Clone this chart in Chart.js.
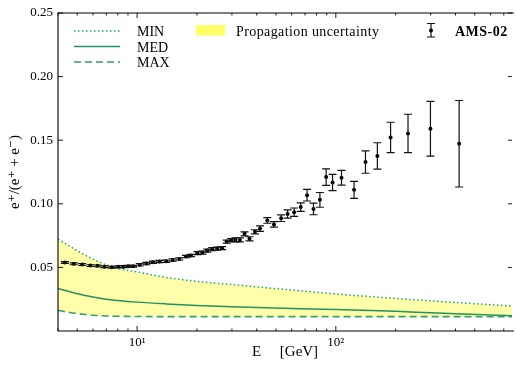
<!DOCTYPE html>
<html lang="en">
<head>
<meta charset="UTF-8">
<title>Positron fraction vs AMS-02</title>
<style>
  body { margin: 0; background: #fff; }
  canvas { display: block; }
</style>
</head>
<body>
<canvas id="fracChart" width="516" height="368"></canvas>
<script src="https://cdn.jsdelivr.net/npm/chart.js"></script>
<script>
// AMS-02 positron fraction
var amsEnergy = [4.33, 4.80, 5.29, 5.82, 6.32, 6.85, 7.46, 8.04, 8.52, 9.02,
  9.55, 10.31, 11.14, 12.01, 12.97, 14.01, 15.11, 16.31, 17.61, 18.65,
  20.11, 21.30, 22.55, 23.88, 25.29, 26.78, 28.26, 29.76, 31.22, 32.91,
  34.73, 36.79, 39.17, 41.58, 45.21, 48.83, 53.07, 57.18, 61.71, 66.59,
  71.65, 77.20, 83.16, 89.39, 96.30, 106.8, 123.5, 141.0, 161.8, 188.6,
  230.8, 299.3, 417.3];
var amsFrac = [0.0538, 0.0528, 0.0522, 0.0514, 0.0512, 0.0506, 0.0502, 0.0506, 0.0506, 0.0509,
  0.0509, 0.0520, 0.0530, 0.0541, 0.0546, 0.0549, 0.0559, 0.0567, 0.0585, 0.0593,
  0.0612, 0.0617, 0.0632, 0.0643, 0.0648, 0.0651, 0.0703, 0.0714, 0.0717, 0.0716,
  0.0764, 0.0725, 0.0780, 0.0805, 0.0869, 0.0838, 0.0887, 0.0920, 0.0934, 0.0974,
  0.1068, 0.0960, 0.1031, 0.1210, 0.1168, 0.1205, 0.1110, 0.1328, 0.1376, 0.1522,
  0.1553, 0.1590, 0.1472];
var amsErr = [0.0007, 0.0007, 0.0007, 0.0007, 0.0007, 0.0007, 0.0007, 0.0007, 0.0007, 0.0007,
  0.0007, 0.0009, 0.0009, 0.0009, 0.0009, 0.0009, 0.0009, 0.0009, 0.0009, 0.0009,
  0.0012, 0.0012, 0.0012, 0.0012, 0.0012, 0.0012, 0.0012, 0.0012, 0.0016, 0.0016,
  0.0016, 0.0016, 0.0016, 0.0021, 0.0022, 0.0022, 0.0026, 0.0033, 0.0033, 0.0033,
  0.0046, 0.0046, 0.0058, 0.0065, 0.0064, 0.0058, 0.0067, 0.0088, 0.0104, 0.0119,
  0.0151, 0.0215, 0.0340];

// propagation models
var modelEnergy = [4, 4.5, 5, 5.5, 6, 7, 8, 10, 14, 20, 30, 40, 60, 100, 150, 200, 300, 400, 600, 800];
var minFrac = [0.0722, 0.0674, 0.0631, 0.0595, 0.0565, 0.0520, 0.0492, 0.0464, 0.0421, 0.0390,
  0.0365, 0.0347, 0.0322, 0.0291, 0.0270, 0.0256, 0.0237, 0.0224, 0.0207, 0.0195];
var medFrac = [0.0334, 0.0312, 0.0293, 0.0279, 0.0267, 0.0250, 0.0240, 0.0227, 0.0213, 0.0201,
  0.0190, 0.0184, 0.0177, 0.0170, 0.0162, 0.0155, 0.0143, 0.0135, 0.0125, 0.0119];
var maxFrac = [0.0162, 0.0148, 0.0137, 0.0130, 0.0124, 0.0118, 0.0116, 0.0114, 0.0113, 0.0113,
  0.0113, 0.0113, 0.0113, 0.0113, 0.0113, 0.0113, 0.0113, 0.0113, 0.0112, 0.0112];

var yTicks = [0.05, 0.10, 0.15, 0.20, 0.25];
var xTickLabels = { 10: '10\u00b9', 100: '10\u00b2' };

var serif = '"Liberation Serif", "DejaVu Serif", serif';
var bandFill = 'rgba(255, 255, 50, 0.42)';
var bandLegend = '#ffff66';
var minColor = '#22a07c';
var medColor = '#24925e';
var maxColor = '#34a06a';

function toPoints(xs, ys) {
  return xs.map(function (x, i) { return { x: x, y: ys[i] }; });
}

// error bars, frame and inward ticks on all four sides
var decorPlugin = {
  id: 'decor',
  afterDatasetsDraw: function (chart) {
    var ctx = chart.ctx, xs = chart.scales.x, ys = chart.scales.y, a = chart.chartArea;
    ctx.save();
    ctx.beginPath();
    ctx.rect(a.left, a.top, a.right - a.left, a.bottom - a.top);
    ctx.clip();
    ctx.strokeStyle = '#111';
    ctx.lineWidth = 1.2;
    amsEnergy.forEach(function (e, i) {
      var px = xs.getPixelForValue(e);
      var top = ys.getPixelForValue(amsFrac[i] + amsErr[i]);
      var bot = ys.getPixelForValue(amsFrac[i] - amsErr[i]);
      ctx.beginPath();
      ctx.moveTo(px, top); ctx.lineTo(px, bot);
      ctx.moveTo(px - 4, top); ctx.lineTo(px + 4, top);
      ctx.moveTo(px - 4, bot); ctx.lineTo(px + 4, bot);
      ctx.stroke();
    });
    ctx.restore();

    ctx.save();
    ctx.strokeStyle = '#000';
    ctx.lineWidth = 1.1;
    ctx.beginPath();
    ctx.moveTo(a.right + 2, a.top); ctx.lineTo(a.left, a.top);
    ctx.lineTo(a.left, a.bottom); ctx.lineTo(a.right + 2, a.bottom);
    ctx.stroke();

    ctx.lineWidth = 0.9;
    ctx.beginPath();
    for (var d = 0; d <= 3; d++) {
      for (var m = 1; m <= 9; m++) {
        var v = m * Math.pow(10, d);
        if (v < xs.min || v > xs.max) continue;
        var px = xs.getPixelForValue(v);
        var len = m === 1 ? 5 : 2.5;
        ctx.moveTo(px, a.bottom); ctx.lineTo(px, a.bottom - len);
        ctx.moveTo(px, a.top); ctx.lineTo(px, a.top + len);
      }
    }
    yTicks.forEach(function (t) {
      var py = ys.getPixelForValue(t);
      ctx.moveTo(a.left, py); ctx.lineTo(a.left + 5, py);
      ctx.moveTo(a.right, py); ctx.lineTo(a.right - 4, py);
    });
    ctx.stroke();
    ctx.restore();
  }
};

// matplotlib-like legend block
var legendPlugin = {
  id: 'legendBlock',
  afterDraw: function (chart) {
    var ctx = chart.ctx;
    ctx.save();
    ctx.lineWidth = 1.5;
    ctx.strokeStyle = minColor;
    ctx.setLineDash([1.5, 2.5]);
    ctx.beginPath(); ctx.moveTo(74, 31); ctx.lineTo(120, 31); ctx.stroke();
    ctx.strokeStyle = medColor;
    ctx.setLineDash([]);
    ctx.beginPath(); ctx.moveTo(74, 46.5); ctx.lineTo(120, 46.5); ctx.stroke();
    ctx.strokeStyle = maxColor;
    ctx.setLineDash([7, 4]);
    ctx.beginPath(); ctx.moveTo(74, 62); ctx.lineTo(120, 62); ctx.stroke();
    ctx.setLineDash([]);

    ctx.fillStyle = '#000';
    ctx.font = '14px ' + serif;
    ctx.textBaseline = 'alphabetic';
    ctx.fillText('MIN', 137, 35.7);
    ctx.fillText('MED', 137, 51.5);
    ctx.fillText('MAX', 137, 67.2);

    ctx.fillStyle = bandLegend;
    ctx.fillRect(196, 25, 29, 10.5);
    ctx.fillStyle = '#000';
    ctx.letterSpacing = '0.4px';
    ctx.fillText('Propagation uncertainty', 236, 35.5);

    ctx.strokeStyle = '#111';
    ctx.lineWidth = 1.2;
    ctx.beginPath();
    ctx.moveTo(431, 23.5); ctx.lineTo(431, 37);
    ctx.moveTo(427, 23.5); ctx.lineTo(435, 23.5);
    ctx.moveTo(427, 37); ctx.lineTo(435, 37);
    ctx.stroke();
    ctx.beginPath(); ctx.arc(431, 30.5, 2, 0, Math.PI * 2); ctx.fill();
    ctx.font = 'bold 14px ' + serif;
    ctx.letterSpacing = '0.5px';
    ctx.fillText('AMS-02', 455, 36);
    ctx.restore();
  }
};

var ctx = document.getElementById('fracChart').getContext('2d');
new Chart(ctx, {
  type: 'scatter',
  data: {
    datasets: [{
      label: 'AMS-02',
      data: toPoints(amsEnergy, amsFrac),
      pointRadius: 2,
      pointBackgroundColor: '#000',
      pointBorderWidth: 0,
      showLine: false
    }, {
      label: 'MIN',
      data: toPoints(modelEnergy, minFrac),
      showLine: true,
      borderColor: minColor,
      borderWidth: 1.5,
      borderDash: [1.5, 2.5],
      pointRadius: 0,
      cubicInterpolationMode: 'monotone',
      fill: 3,
      backgroundColor: bandFill
    }, {
      label: 'MED',
      data: toPoints(modelEnergy, medFrac),
      showLine: true,
      borderColor: medColor,
      borderWidth: 1.5,
      pointRadius: 0,
      cubicInterpolationMode: 'monotone'
    }, {
      label: 'MAX',
      data: toPoints(modelEnergy, maxFrac),
      showLine: true,
      borderColor: maxColor,
      borderWidth: 1.6,
      borderDash: [7, 4],
      pointRadius: 0,
      cubicInterpolationMode: 'monotone'
    }]
  },
  options: {
    responsive: false,
    animation: false,
    layout: { padding: { top: 13, right: 0, left: 0, bottom: 0 } },
    plugins: {
      legend: { display: false },
      tooltip: { enabled: false },
      filler: { drawTime: 'beforeDatasetsDraw' }
    },
    scales: {
      x: {
        type: 'logarithmic',
        min: 4,
        max: 770,
        grid: { display: false, drawTicks: false },
        border: { display: false },
        ticks: {
          autoSkip: false,
          maxRotation: 0,
          padding: 4,
          color: '#000',
          font: { family: serif, size: 13 },
          callback: function (v) {
            if (Math.abs(v - 10) < 1e-6) return xTickLabels[10];
            if (Math.abs(v - 100) < 1e-6) return xTickLabels[100];
            return '';
          }
        },
        title: {
          display: true,
          text: 'E     [GeV]',
          color: '#000',
          font: { family: serif, size: 15 },
          padding: { top: 0, bottom: 7 }
        },
        afterFit: function (s) { s.height = 37; }
      },
      y: {
        min: 0,
        max: 0.25,
        grid: { display: false, drawTicks: false },
        border: { display: false },
        ticks: {
          stepSize: 0.05,
          padding: 5,
          color: '#000',
          font: { family: serif, size: 13 },
          callback: function (v) { return v < 0.001 ? '' : v.toFixed(2); }
        },
        title: {
          display: true,
          text: 'e\u207a/(e\u207a + e\u207b)',
          color: '#000',
          font: { family: serif, size: 15 },
          padding: { top: 6, bottom: 0 }
        },
        afterFit: function (s) { s.width = 58; }
      }
    }
  },
  plugins: [decorPlugin, legendPlugin]
});
</script>
</body>
</html>
